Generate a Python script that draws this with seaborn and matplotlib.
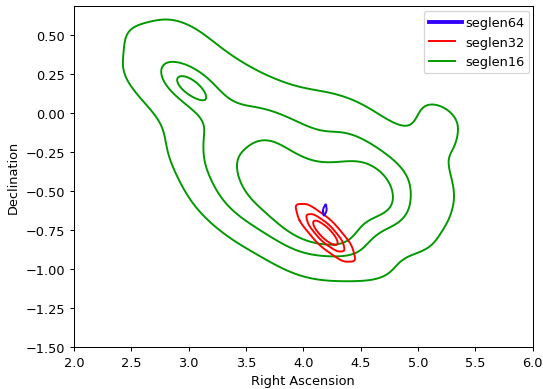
import matplotlib
matplotlib.use("Agg")
import matplotlib.pyplot as plt
from matplotlib.lines import Line2D
from matplotlib.legend_handler import HandlerLine2D
import seaborn as sns
import pandas as pd

# Binned sky positions (RA, Dec) of the seglen16 detections and their counts
ra_16 = [3.00, 2.78, 3.00, 3.22, 2.83, 3.18, 2.68, 2.92, 3.38, 2.62,
         3.55, 3.75,
         3.1, 3.3, 3.5, 3.7, 3.9, 4.1, 4.3, 4.5, 5.2,
         3.1, 3.3, 3.5, 3.7, 3.9, 4.1, 4.3, 4.5, 4.7, 5.15,
         3.1, 3.3, 3.5, 3.7, 3.9, 4.1, 4.3, 4.5, 4.7, 4.9, 5.12,
         3.2, 3.4, 3.6, 3.8, 4.0, 4.2, 4.4, 4.6, 4.8, 5.0, 5.12,
         3.3, 3.5, 3.7, 3.9, 4.1, 4.3, 4.5, 4.7, 4.9, 5.1,
         3.5, 3.7, 3.9, 4.1, 4.3, 4.5, 4.7, 4.9,
         3.9, 4.1, 4.3, 4.5]
dec_16 = [0.18, 0.32, 0.42, 0.28, 0.05, 0.04, 0.45, 0.55, 0.22, 0.22,
          0.15, 0.15,
          0.00, 0.00, 0.00, 0.00, 0.00, 0.00, 0.00, 0.00, 0.00,
          -0.15, -0.15, -0.15, -0.15, -0.15, -0.15, -0.15, -0.15, -0.15, -0.15,
          -0.30, -0.30, -0.30, -0.30, -0.30, -0.30, -0.30, -0.30, -0.30, -0.30, -0.30,
          -0.45, -0.45, -0.45, -0.45, -0.45, -0.45, -0.45, -0.45, -0.45, -0.45, -0.45,
          -0.60, -0.60, -0.60, -0.60, -0.60, -0.60, -0.60, -0.60, -0.60, -0.60,
          -0.75, -0.75, -0.75, -0.75, -0.75, -0.75, -0.75, -0.75,
          -0.90, -0.90, -0.90, -0.90]
n_16 = [9, 3, 3, 2, 2, 2, 2, 1, 2, 2,
        1, 1,
        1, 2, 3, 3, 2, 2, 2, 1, 2,
        3, 3, 3, 3, 3, 2, 2, 3, 1, 2,
        3, 3, 3, 3, 3, 3, 3, 3, 3, 2, 1,
        3, 3, 3, 3, 3, 3, 3, 4, 3, 2, 1,
        3, 3, 3, 3, 3, 3, 4, 4, 3, 1,
        2, 3, 3, 4, 4, 4, 2, 2,
        3, 3, 3, 3]

ra_32 = [4.193, 4.271, 4.210, 4.131, 4.115, 4.176, 4.255,
         4.355, 4.331, 4.226, 4.102, 4.031, 4.055, 4.160, 4.284]
dec_32 = [-0.768, -0.804, -0.744, -0.708, -0.732, -0.792, -0.828,
          -0.879, -0.812, -0.719, -0.655, -0.657, -0.724, -0.817, -0.881]

ra_64 = [4.188, 4.192, 4.184, 4.195, 4.181]
dec_64 = [-0.621, -0.604, -0.638, -0.623, -0.619]

labels = ["seglen64", "seglen32", "seglen16"]
colors = ["#3300ff", "#ff0000", "#009900"]

df16 = pd.DataFrame({"ra": ra_16, "dec": dec_16, "n": n_16})
df32 = pd.DataFrame({"ra": ra_32, "dec": dec_32})
df64 = pd.DataFrame({"ra": ra_64, "dec": dec_64})

DPI = 92.4
fig = plt.figure(figsize=(543 / DPI, 390 / DPI), dpi=DPI)
ax = fig.add_axes([0.136, 0.108, 0.845, 0.873])

sns.kdeplot(data=df16, x="ra", y="dec", weights="n", levels=4, bw_adjust=0.65,
            color=colors[2], linewidths=1.5, ax=ax)
sns.kdeplot(data=df32, x="ra", y="dec", levels=4, bw_adjust=1.0,
            color=colors[1], linewidths=1.5, ax=ax)
sns.kdeplot(data=df64, x="ra", y="dec", levels=[0.05],
            color=colors[0], linewidths=1.5, ax=ax)

ax.set_xlim(2.0, 6.0)
ax.set_ylim(-1.5, 0.685)
ax.set_xlabel("Right Ascension")
ax.set_ylabel("Declination")


class LongLineHandler(HandlerLine2D):
    """Legend line drawn a little longer than the default handle."""
    def create_artists(self, legend, orig_handle, xdescent, ydescent,
                       width, height, fontsize, trans):
        return super().create_artists(legend, orig_handle, xdescent, ydescent,
                                      width + 0.6 * fontsize, height,
                                      fontsize, trans)


handles = [Line2D([], [], color=colors[0], lw=3.0),
           Line2D([], [], color=colors[1], lw=1.5),
           Line2D([], [], color=colors[2], lw=1.5)]
ax.legend(handles, labels, loc="upper right", borderaxespad=0,
          bbox_to_anchor=(0.9926, 0.9862),
          handler_map={handles[0]: LongLineHandler()})

fig.savefig("out.png", dpi=DPI)
